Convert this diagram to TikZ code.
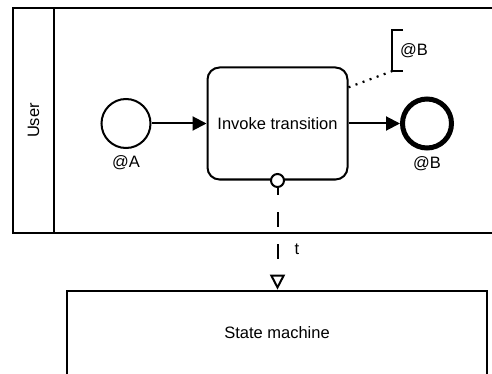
\documentclass[tikz,border=0pt]{standalone}
\usepackage{fontspec}
\setmainfont{Liberation Sans}
\usetikzlibrary{arrows.meta,positioning}

\begin{document}
\begin{tikzpicture}[x=1pt,y=-1pt,
  every node/.style={font=\fontsize{16.5}{19}\selectfont},
  lane/.style={draw,line width=2.7pt},
  startev/.style={circle,draw,line width=2pt,minimum size=49pt,inner sep=0pt},
  endev/.style={circle,draw,line width=5pt,minimum size=49pt,inner sep=0pt},
  task/.style={draw,line width=2pt,rounded corners=12pt,minimum width=140pt,minimum height=112pt},
  msgdot/.style={circle,draw,fill=white,line width=2pt,minimum size=13pt,inner sep=0pt},
  flow/.style={line width=2pt,-{Triangle[length=14pt,width=14pt]}},
  msg/.style={line width=2pt,dash pattern=on 15pt off 17pt,dash phase=8pt,
              -{Triangle[open,length=15pt,width=15pt]}},
  assoc/.style={line width=2.2pt,dash pattern=on 2pt off 5.5pt}
]
\clip (0,0) rectangle (492,374);
%--- Pool with lane "User" ---
\draw[lane] (13,8) rectangle (510,233);
\draw[lane] (54,8) -- (54,233);
\node[rotate=90] (user) at (33.5,120.5) {User};

%--- Events and task ---
\node[startev,label={[label distance=3pt]below:@A}] (start) at (126,123.5) {};
\node[task] (invoke) at (277.5,123.5) {Invoke transition};
\node[endev,label={[label distance=3pt]below:@B}] (finish) at (427,123.5) {};
\draw[flow] (start) -- (invoke);
\draw[flow] (invoke) -- (finish);

%--- Annotation ---
\node[anchor=west,minimum height=41pt,inner xsep=8pt,inner ysep=0pt] (note) at (392,50.5) {@B};
\draw[line width=2pt] ([xshift=11pt]note.north west) -- (note.north west)
  -- (note.south west) -- ([xshift=11pt]note.south west);
\draw[assoc] (invoke.27) -- (note.south west);

%--- Message flow to state machine ---
\node[draw,line width=2.7pt,minimum width=420pt,minimum height=120pt] (sm) at (277,351) {};
\node (smlabel) at (277,333) {State machine};
\node[msgdot] (msgstart) at (invoke.south) {};
\draw[msg] (msgstart.south) -- (msgstart |- sm.north);
\node (tlabel) at (297,249) {t};
\end{tikzpicture}
\end{document}
